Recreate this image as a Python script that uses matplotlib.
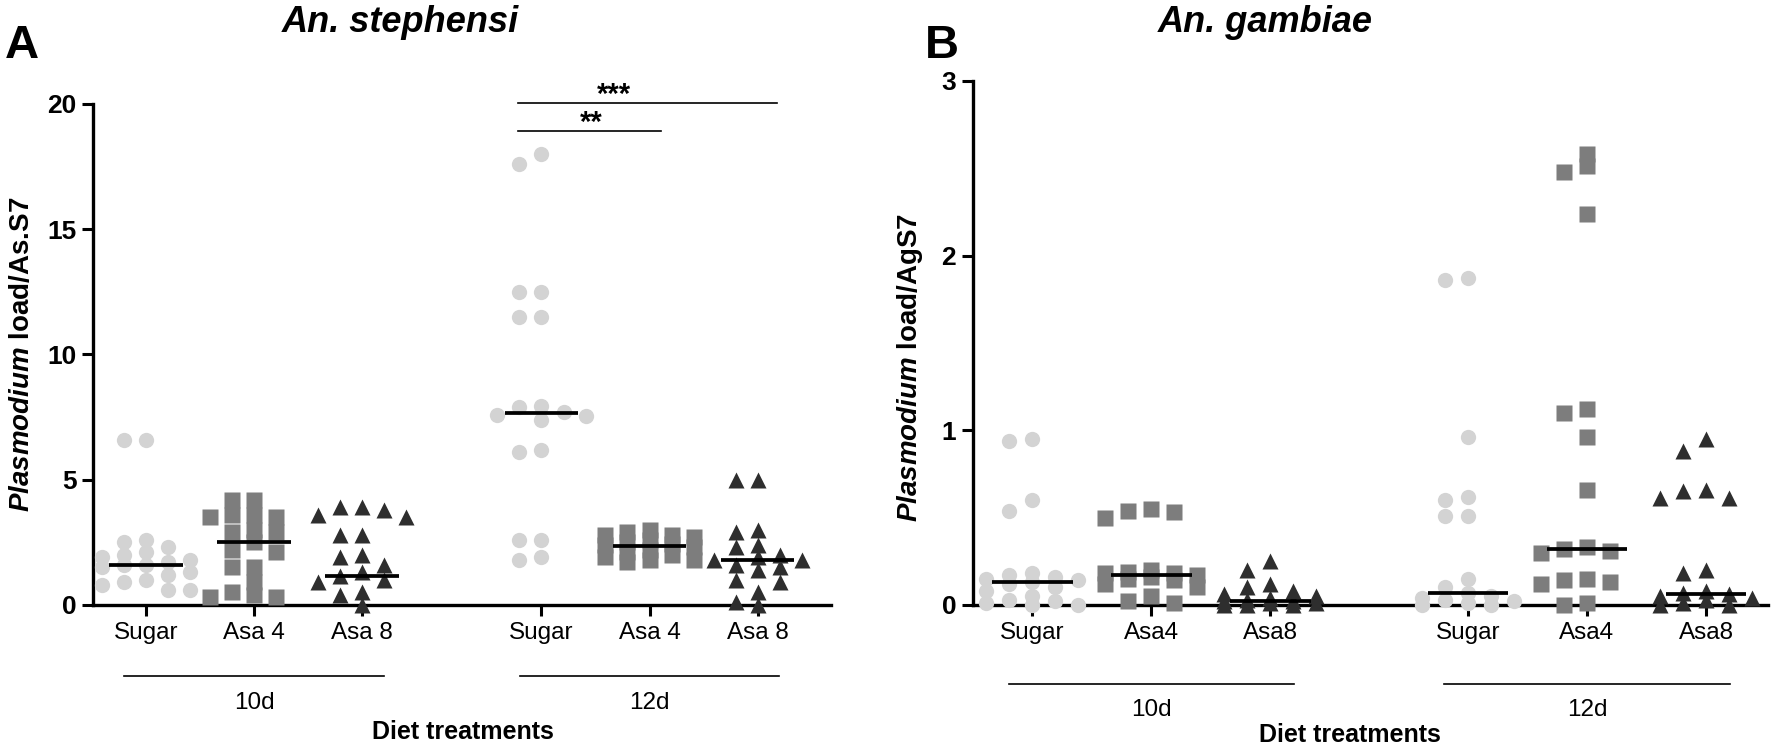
import numpy as np
import matplotlib
matplotlib.use("Agg")
import matplotlib.pyplot as plt
from matplotlib import transforms

plt.rcParams['font.family'] = ['Liberation Sans', 'DejaVu Sans']
plt.rcParams['mathtext.fontset'] = 'custom'
plt.rcParams['mathtext.it'] = 'Liberation Sans:italic:bold'
plt.rcParams['mathtext.rm'] = 'Liberation Sans:bold'

# x layout: three diets per day, a gap between days
positions = [1, 2, 3, 4.66, 5.66, 6.66]
days = ["10d", "12d"]
labels_a = ["Sugar", "Asa 4", "Asa 8", "Sugar", "Asa 4", "Asa 8"]
labels_b = ["Sugar", "Asa4", "Asa8", "Sugar", "Asa4", "Asa8"]

# An. stephensi
a_sugar_10 = [6.6, 6.6, 2.6, 2.5, 2.3, 2.1, 2.0, 1.9, 1.8, 1.7, 1.6, 1.6, 1.5, 1.3, 1.2, 1.0, 0.9, 0.8, 0.6, 0.6]
a_asa4_10 = [4.2, 4.2, 3.6, 3.6, 3.5, 3.5, 3.0, 2.9, 2.9, 2.5, 2.2, 2.1, 1.5, 1.5, 0.9, 0.5, 0.4, 0.3, 0.3]
a_asa8_10 = [3.9, 3.9, 3.8, 3.6, 3.5, 2.8, 2.8, 2.0, 1.9, 1.6, 1.3, 1.15, 1.0, 0.9, 0.5, 0.4, 0.0]
a_sugar_12 = [18.0, 17.6, 12.5, 12.5, 11.5, 11.5, 7.95, 7.9, 7.7, 7.6, 7.55, 7.4, 6.2, 6.1, 2.6, 2.6, 1.9, 1.8]
a_asa4_12 = [3.0, 2.9, 2.8, 2.8, 2.7, 2.6, 2.5, 2.45, 2.4, 2.3, 2.2, 2.1, 2.0, 1.9, 1.8, 1.8, 1.7]
a_asa8_12 = [5.0, 5.0, 3.0, 2.9, 2.4, 2.3, 2.0, 1.9, 1.8, 1.8, 1.6, 1.5, 1.4, 1.0, 0.9, 0.5, 0.1, 0.0]
a_medians = [1.6, 2.5, 1.15, 7.65, 2.35, 1.8]

# An. gambiae
b_sugar_10 = [0.95, 0.94, 0.60, 0.54, 0.18, 0.17, 0.16, 0.15, 0.14, 0.13, 0.12, 0.10, 0.08, 0.05, 0.03, 0.02, 0.01, 0.0, 0.0]
b_asa4_10 = [0.55, 0.54, 0.53, 0.50, 0.20, 0.19, 0.18, 0.18, 0.17, 0.16, 0.15, 0.14, 0.12, 0.10, 0.05, 0.02, 0.01]
b_asa8_10 = [0.25, 0.20, 0.12, 0.10, 0.08, 0.06, 0.05, 0.04, 0.03, 0.02, 0.02, 0.01, 0.01, 0.0, 0.0, 0.0]
b_sugar_12 = [1.87, 1.86, 0.96, 0.62, 0.60, 0.51, 0.51, 0.15, 0.10, 0.07, 0.05, 0.04, 0.03, 0.02, 0.01, 0.0, 0.0]
b_asa4_12 = [2.58, 2.51, 2.48, 2.24, 1.12, 1.10, 0.96, 0.66, 0.33, 0.32, 0.31, 0.30, 0.15, 0.14, 0.13, 0.12, 0.01, 0.0]
b_asa8_12 = [0.95, 0.88, 0.66, 0.65, 0.61, 0.61, 0.20, 0.18, 0.08, 0.07, 0.06, 0.05, 0.04, 0.03, 0.01, 0.0, 0.0]
b_medians = [0.13, 0.17, 0.02, 0.07, 0.32, 0.06]

styles = [("o", "#d3d3d3"), ("s", "#7d7d7d"), ("^", "#2e2e2e")] * 2


def swarm(vals, step, thr, maxcol=2):
    # GraphPad-like column scatter: first free column, else least crowded one
    vals = np.asarray(vals, dtype=float)
    cands = [0]
    for m in range(1, maxcol + 1):
        cands += [-m, m]
    cols = {k: [] for k in cands}
    offs = np.zeros(len(vals))
    for i in np.argsort(-vals, kind="stable"):
        best, best_gap = None, -1.0
        for k in cands:
            gap = min([abs(vals[i] - y) for y in cols[k]], default=np.inf)
            if gap >= thr:
                best = k
                break
            if gap > best_gap:
                best, best_gap = k, gap
        cols[best].append(vals[i])
        offs[i] = best * step
    return offs


def panel(ax, groups, medians, labels, ymax, yticks, step, thr):
    for pos, vals, (mk, col), med in zip(positions, groups, styles, medians):
        offs = swarm(vals, step, thr)
        ms = 11.5 if mk == "s" else 11
        ax.plot(pos + offs, vals, linestyle="none", marker=mk, ms=ms,
                color=col, mec="none", clip_on=False, zorder=3)
        ax.plot([pos - 0.34, pos + 0.34], [med, med], color="black",
                lw=2.7, solid_capstyle="butt", zorder=4, clip_on=False)
    ax.set_ylim(0, ymax)
    ax.set_yticks(yticks)
    ax.set_yticklabels([str(t) for t in yticks], fontsize=19, fontweight="bold")
    ax.set_xticks(positions)
    ax.set_xticklabels(labels, fontsize=17.5)
    ax.tick_params(direction="out", length=8, width=2.2, pad=4)
    for s in ["top", "right"]:
        ax.spines[s].set_visible(False)
    for s in ["left", "bottom"]:
        ax.spines[s].set_linewidth(2.4)


fig = plt.figure(figsize=(17.72, 7.45), dpi=100)

ax_a = fig.add_axes([0.0525, 0.188, 0.4165, 0.6725])
ax_a.set_xlim(0.51, 7.34)
panel(ax_a, [a_sugar_10, a_asa4_10, a_asa8_10, a_sugar_12, a_asa4_12, a_asa8_12],
      a_medians, labels_a, 20, [0, 5, 10, 15, 20], 0.204, 0.5)
ax_a.set_ylabel(r"$\mathit{Plasmodium}$ load/As.S7", fontsize=20, fontweight="bold")
ax_a.yaxis.set_label_coords(-0.079, 0.5)

ax_b = fig.add_axes([0.549, 0.188, 0.4487, 0.7034])
ax_b.set_xlim(0.5, 7.18)
panel(ax_b, [b_sugar_10, b_asa4_10, b_asa8_10, b_sugar_12, b_asa4_12, b_asa8_12],
      b_medians, labels_b, 3, [0, 1, 2, 3], 0.193, 0.07)
ax_b.set_ylabel(r"$\mathit{Plasmodium}$ load/AgS7", fontsize=20, fontweight="bold")
ax_b.yaxis.set_label_coords(-0.060, 0.454)

# significance bars (panel A)
ax_a.plot([4.44, 6.84], [20.04, 20.04], color="black", lw=1.2, clip_on=False)
ax_a.plot([4.44, 5.77], [18.92, 18.92], color="black", lw=1.2, clip_on=False)
ax_a.text(5.33, 19.8, "***", ha="center", va="bottom", fontsize=21, fontweight="bold")
ax_a.text(5.12, 18.68, "**", ha="center", va="bottom", fontsize=21, fontweight="bold")

# day brackets under the axes
for ax, yl, yt in [(ax_a, 0.0926, 0.0564), (ax_b, 0.0819, 0.047)]:
    tr = transforms.blended_transform_factory(ax.transData, fig.transFigure)
    for c, d in zip([2, 5.66], days):
        ax.plot([c - 1.2, c + 1.2], [yl, yl], color="black", lw=1.2,
                transform=tr, clip_on=False)
        ax.text(c, yt, d, ha="center", va="center", fontsize=17.5, transform=tr)

fig.text(463 / 1772, 0.018, "Diet treatments", ha="center", va="center",
         fontsize=18, fontweight="bold")
fig.text(1350 / 1772, 0.014, "Diet treatments", ha="center", va="center",
         fontsize=18, fontweight="bold")

fig.text(400 / 1772, 0.970, "An. stephensi", ha="center", va="center",
         fontsize=26, fontweight="bold", style="italic")
fig.text(1265 / 1772, 0.970, "An. gambiae", ha="center", va="center",
         fontsize=26, fontweight="bold", style="italic")
fig.text(0.003, 0.938, "A", ha="left", va="center", fontsize=34, fontweight="bold")
fig.text(925 / 1772, 0.938, "B", ha="left", va="center", fontsize=34, fontweight="bold")

fig.savefig("out.png", dpi=100)
